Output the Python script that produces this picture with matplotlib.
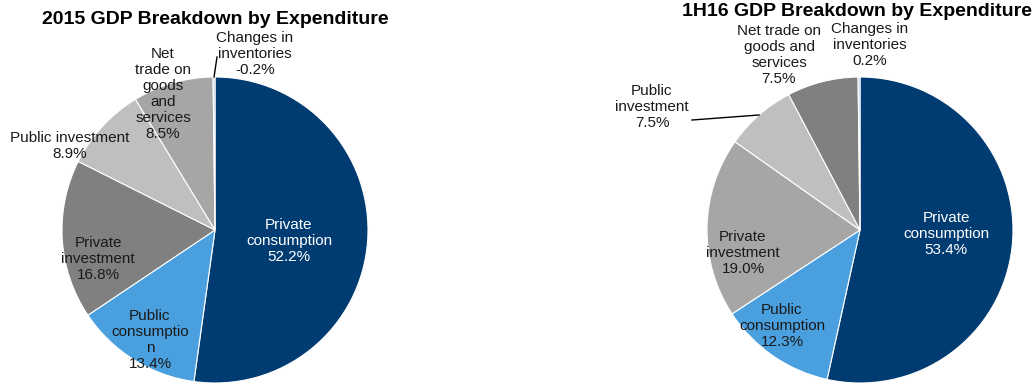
import numpy as np
import matplotlib
matplotlib.use("Agg")
import matplotlib.pyplot as plt

plt.rcParams['font.family'] = ['Liberation Sans', 'DejaVu Sans']

# ---- data ----
categories = ["Private consumption", "Public consumption", "Private investment",
              "Public investment", "Net trade on goods and services",
              "Changes in inventories"]
values_2015 = [52.2, 13.4, 16.8, 8.9, 8.5, -0.2]
values_1h16 = [53.4, 12.3, 19.0, 7.5, 7.5, 0.2]
title_2015 = "2015 GDP Breakdown by Expenditure"
title_1h16 = "1H16 GDP Breakdown by Expenditure"

# wrapped label names as they appear in each chart
names_2015 = ["Private\nconsumption", "Public\nconsumptio\nn", "Private\ninvestment",
              "Public investment", "Net\ntrade on\ngoods\nand\nservices",
              "Changes in\ninventories"]
names_1h16 = ["Private\nconsumption", "Public\nconsumption", "Private\ninvestment",
              "Public\ninvestment", "Net trade on\ngoods and\nservices",
              "Changes in\ninventories"]

# ---- styles ----
NAVY = "#003B71"
BLUE = "#4A9FDF"
INV = "#A9C6EA"
colors_2015 = [NAVY, BLUE, "#808080", "#BFBFBF", "#A6A6A6", INV]
colors_1h16 = [NAVY, BLUE, "#A6A6A6", "#BFBFBF", "#808080", INV]
textcol_2015 = ["white", "#1a1a1a", "#1a1a1a", "#1a1a1a", "#1a1a1a", "#1a1a1a"]
textcol_1h16 = textcol_2015

W, H = 1035, 385
fig = plt.figure(figsize=(W / 100, H / 100), dpi=100)
ax = fig.add_axes([0, 0, 1, 1])

R = 153
# layout: pie centre, label centres (pixel coords from top), leader endpoints
layouts = [
    dict(center=(215, 230), title_xy=(215, 19),
         label_xy=[(289, 241), (150, 340), (98, 259), (70, 146), (163, 94), (255, 54)],
         leaders={5: (217, 57)}),
    dict(center=(860, 230), title_xy=(857, 11),
         label_xy=[(946, 234), (782, 326), (743, 253), (652, 107), (779, 55), (870, 45)],
         leaders={3: (692, 120)}),
]

charts = [(values_2015, names_2015, colors_2015, textcol_2015, title_2015),
          (values_1h16, names_1h16, colors_1h16, textcol_1h16, title_1h16)]

for (vals, names, cols, tcols, title), lay in zip(charts, layouts):
    cx, cy = lay['center']
    sizes = np.abs(vals)
    wedges, _ = ax.pie(sizes, colors=cols, startangle=90, counterclock=False,
                       radius=R, center=(cx, H - cy), frame=True,
                       wedgeprops=dict(edgecolor='white', linewidth=0.8))
    for i, (name, v) in enumerate(zip(names, vals)):
        lx, ly = lay['label_xy'][i]
        ax.text(lx, H - ly, f"{name}\n{v:.1f}%", ha='center', va='center',
                fontsize=11, color=tcols[i], linespacing=1.2)
    for i, (ex, ey) in lay['leaders'].items():
        w = wedges[i]
        th = np.deg2rad((w.theta1 + w.theta2) / 2)
        sx, sy = cx + R * np.cos(th), (H - cy) + R * np.sin(th)
        ax.plot([sx, ex], [sy, H - ey], color='black', lw=1)
    tx, ty = lay['title_xy']
    ax.text(tx, H - ty, title, ha='center', va='center', fontsize=14,
            fontweight='bold', color='black')

ax.set_xlim(0, W)
ax.set_ylim(0, H)
ax.set_aspect('equal')
ax.axis('off')

fig.savefig("out.png", dpi=100)
